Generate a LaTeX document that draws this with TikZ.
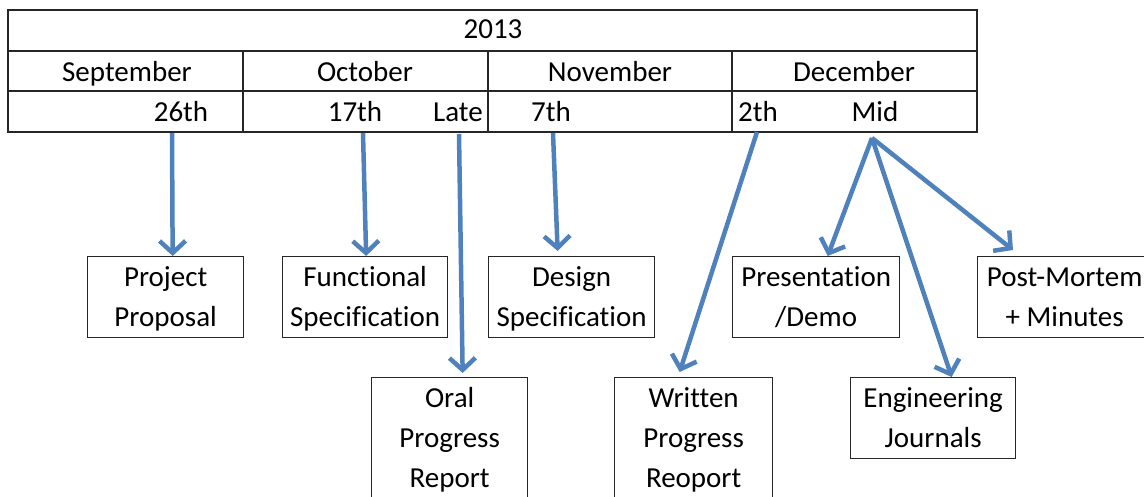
\documentclass[tikz,border=0pt]{standalone}
\usepackage{fontspec}
\setmainfont{Carlito}[Ligatures=NoCommon]
\usetikzlibrary{arrows.meta}
\definecolor{arrowblue}{RGB}{79,129,189}
\definecolor{rulegray}{RGB}{38,38,38}
\newcommand{\boxfont}{\fontsize{29}{40}\selectfont}
\newcommand{\ls}{\rule[-10.5pt]{0pt}{40pt}}

\begin{document}
\begin{tikzpicture}[x=1pt, y=-1pt, font=\boxfont,
		cell/.style={anchor=base, inner sep=0pt},
		card/.style={draw=rulegray, line width=1.3pt, anchor=north west, align=center, inner xsep=0pt, inner ysep=0.5pt, minimum height=81pt},
		tall/.style={minimum height=121pt},
		arr/.style={arrowblue, line width=4.5pt, -{Straight Barb[length=12pt,width=26pt]}}]
	\useasboundingbox (0,0) rectangle (1144,497);
	\clip (0,0) rectangle (1144,497);
	% the calendar table
	\draw[rulegray, line width=1.3pt] (8,10) rectangle (977,132)
		(8,51) -- (977,51) (8,91) -- (977,91)
		(243,51) -- (243,132) (488,51) -- (488,132) (732,51) -- (732,132);
	\node[cell] (year) at (493,39) {2013};
	\node[cell] (sep) at (127,82) {September};
	\node[cell] (oct) at (365,82) {October};
	\node[cell] (nov) at (610,82) {November};
	\node[cell] (dec) at (854,82) {December};
	\node[cell] (d26) at (181,122) {26th};
	\node[cell] (d17) at (355,122) {17th};
	\node[cell] (late) at (458,122) {Late};
	\node[cell] (d7) at (551,122) {7th};
	\node[cell] (d2) at (758,122) {2th};
	\node[cell] (mid) at (875,122) {Mid};
	\coordinate (t26) at (172,133);
	\coordinate (t17) at (363,133);
	\coordinate (tlate) at (459,134);
	\coordinate (t7) at (553,133);
	\coordinate (t2) at (757,132);
	\coordinate (tmid) at (872,138);
	% deliverables
	\node[card, minimum width=156pt] (prop) at (87,256) {\ls Project\\\ls Proposal};
	\node[card, minimum width=165pt] (func) at (282,256) {\ls Functional\\\ls Specification};
	\node[card, minimum width=166pt] (des) at (488,256) {\ls Design\\\ls Specification};
	\node[card, minimum width=167pt] (pres) at (732,256) {\ls Presentation\\\ls /Demo};
	\node[card, minimum width=174pt] (pm) at (977,256) {\ls Post-Mortem\\\ls + Minutes};
	\node[card, tall, minimum width=156pt] (oral) at (371,377) {\ls Oral\\\ls Progress\\\ls Report};
	\node[card, tall, minimum width=158pt] (writ) at (614,377) {\ls Written\\\ls Progress\\\ls Reoport};
	\node[card, minimum width=165pt] (eng) at (850,377) {\ls Engineering\\\ls Journals};
	\path[arr]
		(t26) edge ([xshift=7pt]prop.north)
		(t17) edge ([xshift=1pt]func.north)
		(tlate) edge ([xshift=13pt,yshift=4pt]oral.north)
		(t7) edge ([xshift=-14pt,yshift=5pt]des.north)
		(t2) edge ([xshift=-14pt,yshift=5pt]writ.north)
		(tmid) edge ([xshift=11.5pt]pres.north) edge ([xshift=18.5pt]eng.north) edge ([xshift=36pt,yshift=6pt]pm.north west);
\end{tikzpicture}
\end{document}
